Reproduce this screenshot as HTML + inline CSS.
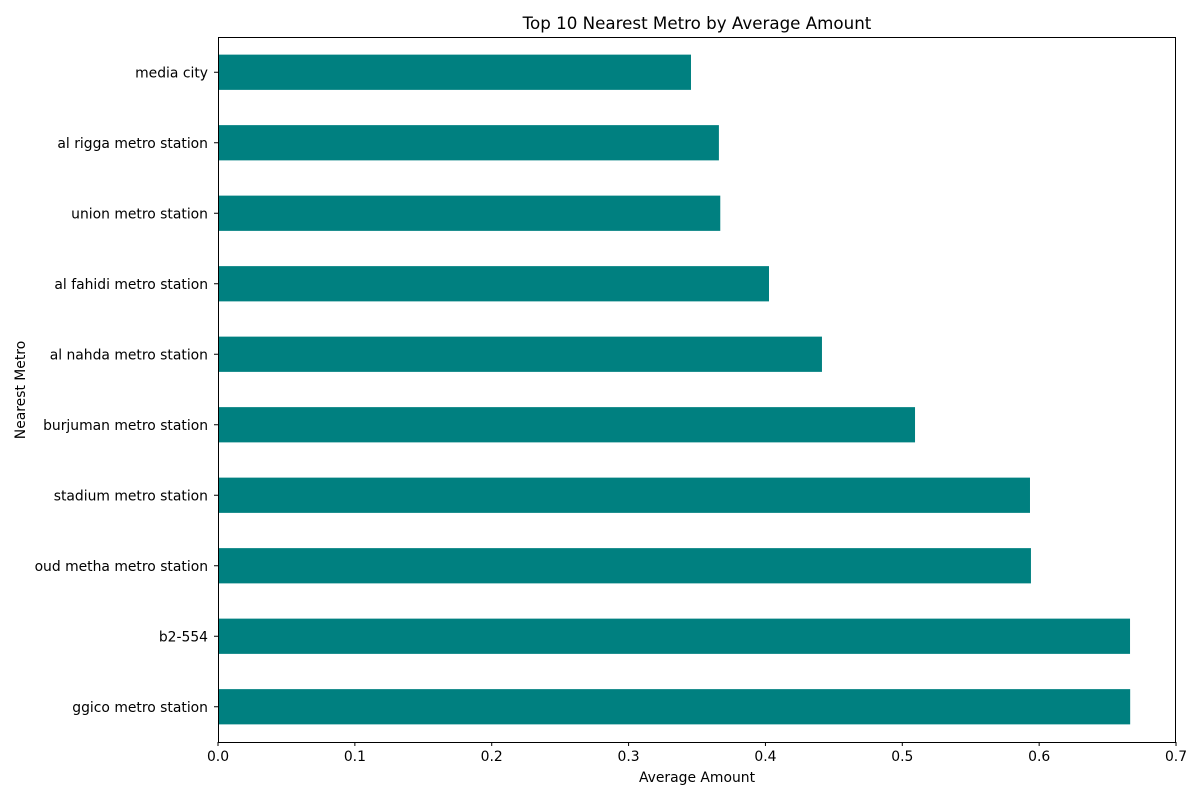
<!DOCTYPE html>
<html><head><meta charset="utf-8"><style>
body{margin:0;background:#fff;font-family:"Liberation Sans","DejaVu Sans",sans-serif;}
svg text{font-family:"DejaVu Sans","Liberation Sans",sans-serif;fill:#000;}
</style></head><body>
<svg id="chart" width="1200" height="800" xmlns="http://www.w3.org/2000/svg">
<rect width="1200" height="800" fill="#fff"/>
<text x="697" y="29" font-size="16.7" text-anchor="middle">Top 10 Nearest Metro by Average Amount</text>
<text x="697" y="782" font-size="13.9" text-anchor="middle">Average Amount</text>
<text x="25" y="390" font-size="13.9" text-anchor="middle" transform="rotate(-90 25 390)">Nearest Metro</text>
<g id="bars"></g><g id="ticks"></g>
<rect x="218.5" y="37.5" width="957" height="705" fill="none" stroke="#000" stroke-width="1"/>
</svg>
<script>
const categories=["media city","al rigga metro station","union metro station","al fahidi metro station","al nahda metro station","burjuman metro station","stadium metro station","oud metha metro station","b2-554","ggico metro station"];
const values=[0.3456,0.366,0.367,0.4026,0.4413,0.5093,0.5933,0.594,0.6664,0.6665];
const xTicks=[0,0.1,0.2,0.3,0.4,0.5,0.6,0.7];
const xTickLabels=["0.0","0.1","0.2","0.3","0.4","0.5","0.6","0.7"];
const NS="http://www.w3.org/2000/svg";
const L=218,R=1176,T=37,B=742,XMAX=(R-L)/1368.6;
const x=v=>L+v*(R-L)/XMAX;
const band=(B-T)/categories.length;
const y=i=>T+band*(i+0.5);
const bars=document.getElementById('bars'),ticks=document.getElementById('ticks');
categories.forEach((c,i)=>{
 const r=document.createElementNS(NS,'rect');
 r.setAttribute('x',x(0));r.setAttribute('y',y(i)-band*0.25);
 r.setAttribute('width',x(values[i])-x(0));r.setAttribute('height',band*0.5);
 r.setAttribute('fill','#008080');
 
 
 bars.appendChild(r);
 const tk=document.createElementNS(NS,'line');
 tk.setAttribute('x1',L-4);tk.setAttribute('x2',L);tk.setAttribute('y1',y(i));tk.setAttribute('y2',y(i));tk.setAttribute('stroke','#000');
 
 
 ticks.appendChild(tk);
 const t=document.createElementNS(NS,'text');
 t.setAttribute('x',L-10);t.setAttribute('y',y(i)+5);t.setAttribute('font-size','13.9');t.setAttribute('text-anchor','end');
 t.textContent=c;
 
 
 ticks.appendChild(t);
});
xTicks.forEach((v,i)=>{
 const tk=document.createElementNS(NS,'line');
 tk.setAttribute('x1',x(v));tk.setAttribute('x2',x(v));tk.setAttribute('y1',B);tk.setAttribute('y2',B+4);tk.setAttribute('stroke','#000');
 
 
 ticks.appendChild(tk);
 const t=document.createElementNS(NS,'text');
 t.setAttribute('x',x(v));t.setAttribute('y',B+19);t.setAttribute('font-size','13.9');t.setAttribute('text-anchor','middle');
 t.textContent=xTickLabels[i];
 
 
 ticks.appendChild(t);
});
</script>
</body></html>
